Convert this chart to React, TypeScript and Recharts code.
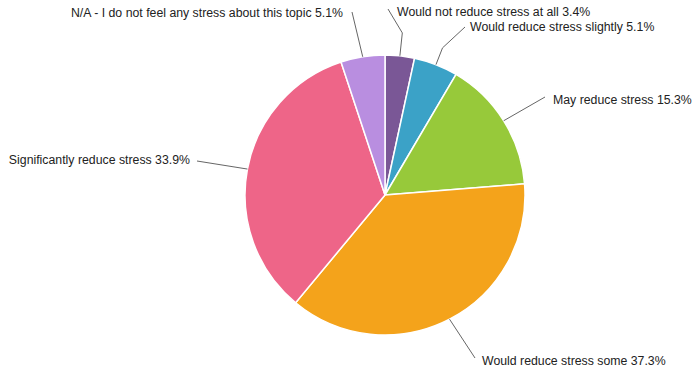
import { PieChart, Pie, Cell } from 'recharts';

// survey answers, clockwise from 12 o'clock
const answers = [
	'Would not reduce stress at all',
	'Would reduce stress slightly',
	'May reduce stress',
	'Would reduce stress some',
	'Significantly reduce stress',
	'N/A - I do not feel any stress about this topic',
];
const responses = [2, 3, 9, 22, 20, 3];
const colors = ['#7a5796', '#3ba2c7', '#97c93a', '#f4a31b', '#ee6588', '#b98ee0'];

const data = answers.map((name, i) => ({ name, value: responses[i] }));

// where each callout text sits: [lineEndX, lineEndY, textX, textY, anchor, elbowRadius]
const callouts: [number, number, number, number, 'start' | 'end', number][] = [
	[388, 9, 397, 12, 'start', 163],
	[465, 27, 470, 27, 'start', 158],
	[545, 97, 553, 100, 'start', 0],
	[475, 358, 482, 361, 'start', 0],
	[197, 161, 190, 160, 'end', 0],
	[352, 12, 343, 13, 'end', 0],
];

const RAD = Math.PI / 180;

function Callout(props: any) {
	const { cx, cy, midAngle, outerRadius, index, percent, name } = props;
	const [lx, ly, tx, ty, anchor, elbow] = callouts[index];
	const sx = cx + outerRadius * Math.cos(-midAngle * RAD);
	const sy = cy + outerRadius * Math.sin(-midAngle * RAD);
	const pts = [[sx, sy]];
	if (elbow) {
		pts.push([cx + elbow * Math.cos(-midAngle * RAD), cy + elbow * Math.sin(-midAngle * RAD)]);
	}
	pts.push([lx, ly]);
	return (
		<g>
			<polyline
				points={pts.map((p) => p.join(',')).join(' ')}
				fill="none"
				stroke="#666"
				strokeWidth={1}
			/>
			<text
				x={tx}
				y={ty}
				textAnchor={anchor}
				dominantBaseline="central"
				fill="#222"
				fontSize={12.3}
				fontFamily="'Liberation Sans', Arial, sans-serif"
			>
				{`${name} ${(percent * 100).toFixed(1)}%`}
			</text>
		</g>
	);
}

export default function App() {
	return (
		<div style={{ position: 'absolute', left: 0, top: 0, background: '#fff' }}>
			<PieChart width={696} height={372} margin={{ top: 0, right: 0, bottom: 0, left: 0 }}>
				<Pie
					data={data}
					dataKey="value"
					nameKey="name"
					cx={385}
					cy={195}
					outerRadius={140}
					startAngle={90}
					endAngle={-270}
					stroke="#fff"
					strokeWidth={1.5}
					label={Callout}
					labelLine={false}
					isAnimationActive={false}
				>
					{data.map((d, i) => (
						<Cell key={d.name} fill={colors[i]} />
					))}
				</Pie>
			</PieChart>
		</div>
	);
}
